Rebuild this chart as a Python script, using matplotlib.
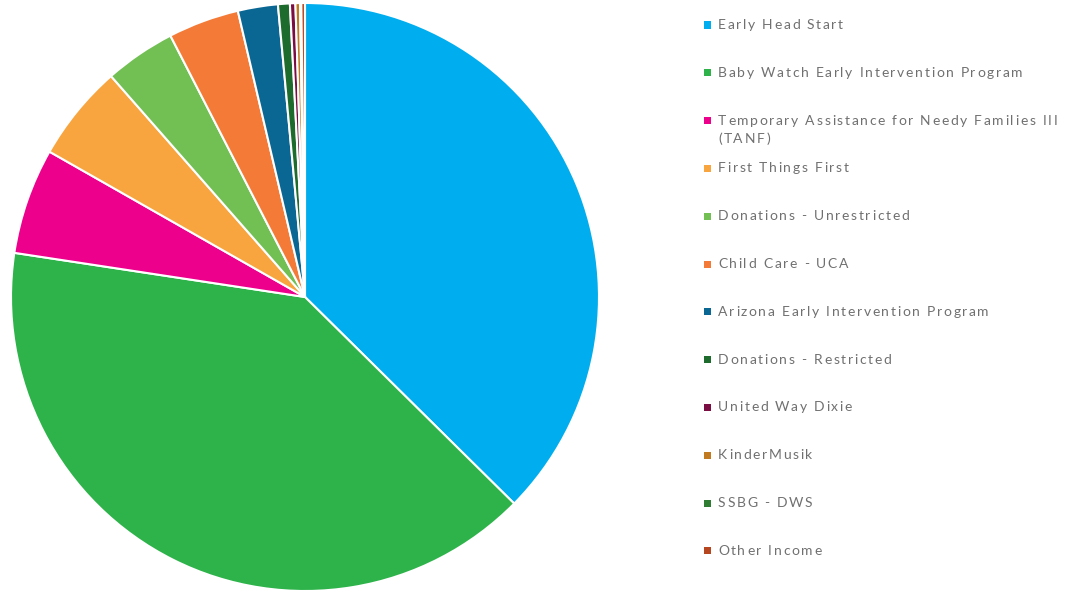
import matplotlib
matplotlib.use("Agg")
import matplotlib.pyplot as plt
from matplotlib.patches import Rectangle
from matplotlib.font_manager import FontProperties
from matplotlib.textpath import TextToPath

labels = ["Early Head Start", "Baby Watch Early Intervention Program",
          "Temporary Assistance for Needy Families III\n(TANF)", "First Things First",
          "Donations - Unrestricted", "Child Care - UCA", "Arizona Early Intervention Program",
          "Donations - Restricted", "United Way Dixie", "KinderMusik", "SSBG - DWS", "Other Income"]
values = [37.4, 40.0, 5.83, 5.3, 3.9, 3.9, 2.2, 0.65, 0.3, 0.25, 0.07, 0.2]
colors = ["#00AEEF", "#2DB34A", "#EC008C", "#F8A53F", "#72BF54", "#F47B37",
          "#0A6793", "#1E6B2E", "#7A0D42", "#C17A1F", "#2E7D32", "#B5461F"]

W, H = 1072, 592
DPI = 100
fig = plt.figure(figsize=(W / DPI, H / DPI), dpi=DPI)
cx, cy, r = 305, 297, 294
ax = fig.add_axes([(cx - r) / W, (H - cy - r) / H, 2 * r / W, 2 * r / H])
ax.pie(values, colors=colors, startangle=90, counterclock=False,
       wedgeprops=dict(edgecolor="white", linewidth=1.5))
ax.set_xlim(-1, 1)
ax.set_ylim(-1, 1)
ax.set_aspect("auto")
ax.axis("off")

fsize = 10
prop = FontProperties(family="Lato", size=fsize)
t2p = TextToPath()
track = 1.7  # extra pixels between letters


def width_px(s):
    if not s:
        return 0.0
    w, _, _ = t2p.get_text_width_height_descent(s, prop, ismath=False)
    return w * DPI / 72.0


def spaced_text(x0, y, s):
    for k, ch in enumerate(s):
        if ch == " ":
            continue
        x = x0 + width_px(s[:k]) + k * track
        fig.text(x / W, (H - y) / H, ch, fontproperties=prop, color="#707070",
                 ha="left", va="center")


y0, step = 25, 47.8
for i, (lab, col) in enumerate(zip(labels, colors)):
    y = y0 + i * step
    fig.patches.append(Rectangle(((707 - 3.5) / W, (H - y - 3.5) / H), 7 / W, 7 / H,
                                 transform=fig.transFigure, facecolor=col, edgecolor="none"))
    for j, line in enumerate(lab.split("\n")):
        spaced_text(718, y + j * 18, line)

fig.savefig("out.png", dpi=DPI)
